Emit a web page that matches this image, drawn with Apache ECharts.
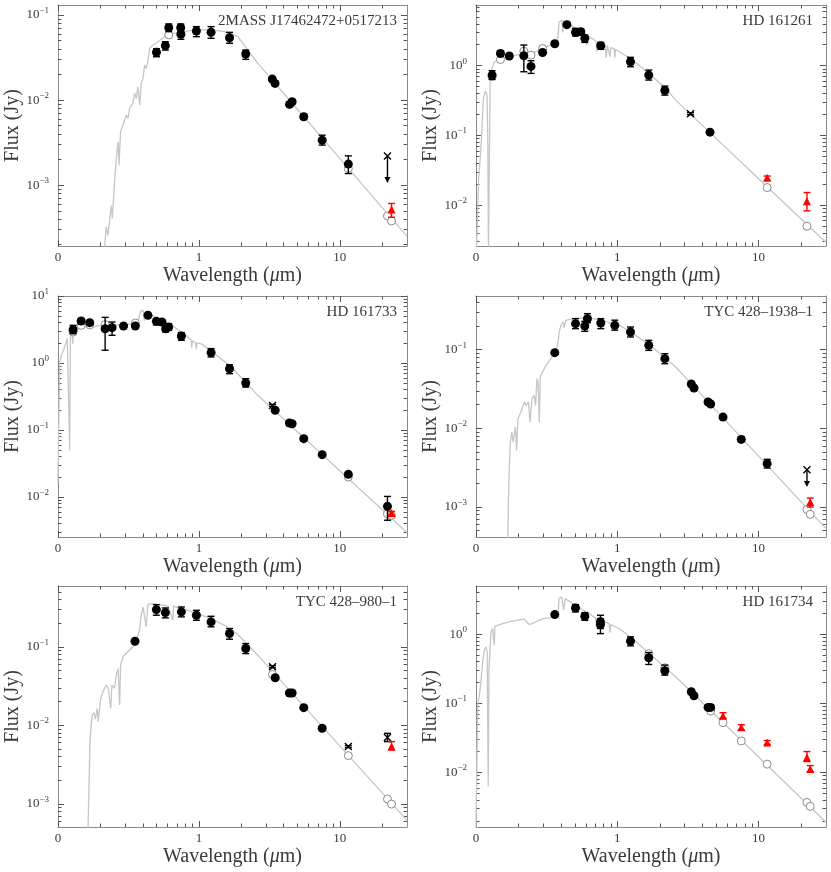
<!DOCTYPE html>
<html><head><meta charset="utf-8">
<script src="https://cdn.jsdelivr.net/npm/echarts@6/dist/echarts.min.js"></script>
<style>html,body{margin:0;padding:0;background:#fff}#c{width:831px;height:872px}</style>
</head><body><div id="c"></div>
<script>
// ---------------- data ----------------
const panelNames = ['2MASS J17462472+0517213', 'HD 161261', 'HD 161733', 'TYC 428\u20131938\u20131', 'TYC 428\u2013980\u20131', 'HD 161734'];
const yMins = [1.93e-4, 2.6e-3, 2.53e-3, 4.16e-4, 5.06e-4, 1.63e-3];
const yMaxs = [0.131, 7.43, 10, 0.481, 0.596, 4.98];
const xMin = 0.1, xMax = 30;
const xTickValues = [0.1, 1, 10];
const xTickLabels = ['0', '1', '10'];

// model spectra [wavelength um, flux Jy]
const p1Model = [[0.214,1.88e-4],[0.220,3.24e-4],[0.226,2.58e-4],[0.232,3.71e-4],[0.239,5.82e-4],[0.243,4.06e-4],[0.252,1.09e-3],[0.259,2.06e-3],[0.267,3.24e-3],[0.271,1.72e-3],[0.278,4.24e-3],[0.289,5.08e-3],[0.305,6.67e-3],[0.314,6.08e-3],[0.322,7.98e-3],[0.340,9.14e-3],[0.350,0.01198],[0.360,0.01046],[0.369,0.01435],[0.380,8.73e-3],[0.390,0.0157],[0.401,0.0180],[0.412,0.0258],[0.423,0.0236],[0.434,0.0282],[0.447,0.0406],[0.472,0.0444],[0.512,0.0485],[0.571,0.0556],[0.620,0.0593],[0.710,0.0625],[0.836,0.0649],[0.984,0.0667],[1.22,0.0667],[1.52,0.0637],[1.89,0.0556],[2.62,0.0270],[5.0,7.8e-3],[10,2.07e-3],[30,2.5e-4]];
const p2Model = [[0.1005,2.0e-3],[0.1044,0.0241],[0.108,0.0583],[0.1105,0.141],[0.1127,0.34],[0.1164,0.433],[0.1196,0.379],[0.1212,0.0906],[0.1225,2.0e-3],[0.1245,2.0e-3],[0.126,0.735],[0.1297,0.916],[0.1348,1.14],[0.142,1.20],[0.154,1.27],[0.172,1.32],[0.192,1.42],[0.214,1.45],[0.225,1.30],[0.238,1.42],[0.266,1.59],[0.296,1.81],[0.348,2.02],[0.378,2.21],[0.388,4.28],[0.405,4.52],[0.411,3.0],[0.417,4.4],[0.445,4.05],[0.509,3.43],[0.590,2.85],[0.605,1.98],[0.615,2.72],[0.705,2.26],[0.715,1.6],[0.725,2.2],[0.82,1.98],[0.835,1.3],[0.85,1.95],[0.875,1.87],[0.89,1.35],[0.90,1.82],[0.95,1.75],[0.96,1.3],[0.97,1.72],[1.0,1.68],[1.28,1.21],[1.68,0.776],[2.20,0.473],[2.59,0.321],[5.0,0.0908],[10,0.024],[30,2.91e-3]];
const p3Model = [[0.1,0.0168],[0.1027,1.03],[0.1056,1.30],[0.1115,1.73],[0.1164,2.31],[0.1195,2.4],[0.121,0.0498],[0.1225,2.5],[0.1257,2.90],[0.127,1.94],[0.1285,3.0],[0.1327,3.25],[0.146,3.57],[0.172,3.44],[0.203,3.65],[0.239,3.65],[0.297,3.73],[0.350,3.86],[0.369,4.09],[0.385,5.90],[0.403,6.11],[0.410,4.3],[0.418,5.9],[0.431,5.77],[0.485,4.86],[0.571,4.09],[0.600,3.9],[0.610,2.9],[0.620,3.85],[0.750,2.90],[0.760,2.3],[0.770,2.85],[0.883,2.18],[0.890,1.7],[0.900,2.15],[0.950,2.0],[0.960,1.6],[0.970,1.98],[1.04,1.94],[1.29,1.38],[1.70,0.871],[2.62,0.329],[5.0,0.0942],[10,0.0247],[30,2.95e-3]];
const p4Model = [[0.1675,3.0e-4],[0.170,1.41e-3],[0.172,3.07e-3],[0.175,6.7e-3],[0.1795,8.97e-3],[0.183,6.7e-3],[0.190,0.0104],[0.1937,5.25e-3],[0.198,0.0133],[0.208,0.0161],[0.220,0.0216],[0.2255,0.0196],[0.2355,0.0216],[0.241,0.0120],[0.249,0.0238],[0.258,0.0262],[0.264,0.0196],[0.270,0.0428],[0.275,0.038],[0.2806,0.0120],[0.285,0.0450],[0.296,0.0520],[0.313,0.0632],[0.339,0.0769],[0.358,0.0889],[0.378,0.1136],[0.388,0.168],[0.399,0.204],[0.414,0.225],[0.420,0.19],[0.432,0.236],[0.482,0.248],[0.567,0.253],[0.600,0.25],[0.610,0.2],[0.620,0.25],[0.667,0.248],[0.785,0.236],[0.924,0.214],[1.09,0.194],[1.35,0.152],[1.77,0.108],[2.59,0.0602],[5.0,0.0169],[10,4.43e-3],[30,5.31e-4]];
const p5Model = [[0.163,4.0e-4],[0.166,1.75e-3],[0.1687,6.2e-3],[0.172,0.0101],[0.175,0.0135],[0.180,0.0145],[0.184,0.012],[0.190,0.0164],[0.193,0.0111],[0.201,0.0220],[0.2085,0.0268],[0.220,0.0326],[0.228,0.029],[0.2365,0.0164],[0.2415,0.0326],[0.252,0.0295],[0.259,0.0437],[0.267,0.0531],[0.2737,0.0181],[0.278,0.0585],[0.289,0.0746],[0.313,0.0864],[0.340,0.1],[0.360,0.116],[0.380,0.171],[0.390,0.253],[0.401,0.322],[0.410,0.33],[0.423,0.18],[0.434,0.345],[0.459,0.356],[0.512,0.345],[0.603,0.332],[0.654,0.218],[0.660,0.33],[0.710,0.313],[0.836,0.292],[0.984,0.265],[1.22,0.229],[1.52,0.188],[1.89,0.1435],[2.62,0.0783],[5.0,0.0216],[10,5.46e-3],[30,6.15e-4]];
const p6Model = [[0.1,1.5e-3],[0.1027,0.0946],[0.1056,0.132],[0.1084,0.205],[0.1115,0.399],[0.1146,0.588],[0.1177,0.656],[0.120,0.556],[0.122,6.3e-3],[0.1235,0.3],[0.1257,0.621],[0.1277,1.08],[0.131,1.21],[0.1347,0.69],[0.136,1.3],[0.1384,1.35],[0.154,1.42],[0.172,1.51],[0.192,1.59],[0.220,1.65],[0.238,1.38],[0.258,1.47],[0.296,1.68],[0.348,1.74],[0.378,1.78],[0.388,3.27],[0.405,3.45],[0.417,2.22],[0.428,3.27],[0.445,3.09],[0.509,2.62],[0.590,2.15],[0.605,1.5],[0.615,2.1],[0.705,1.68],[0.715,1.25],[0.725,1.65],[0.875,1.42],[0.885,1.05],[0.900,1.38],[1.03,1.21],[1.28,0.866],[1.68,0.526],[2.59,0.243],[5.0,0.0661],[10,0.0168],[30,1.91e-3]];

// observed photometry [wavelength, flux, lower, upper]
const p1Obs = [[0.50,0.0364,0.0323,0.0402],[0.578,0.0436,0.0387,0.0485],[0.611,0.0710,0.0637,0.0784],[0.743,0.0710,0.0637,0.0784],[0.745,0.0593,0.0518,0.0667],[0.96,0.0649,0.0556,0.0729],[1.22,0.0625,0.0532,0.0729],[1.65,0.0540,0.0465,0.0625],[2.15,0.0348,0.0301,0.0387],[3.32,0.01766,0.0168,0.0185],[3.47,0.0157,0.0149,0.0166],[4.40,0.00889,0.0084,0.0094],[4.59,0.00955,0.0091,0.0100],[5.55,0.00637,0.0060,0.0068],[7.50,0.00338,0.00296,0.00387],[11.5,0.00177,0.00137,0.00221]];
const p2Obs = [[0.130,0.735,0.637,0.848],[0.149,1.50,1.38,1.64],[0.172,1.38,1.31,1.45],[0.218,1.39,0.82,1.98],[0.245,0.978,0.776,1.18],[0.296,1.55,1.47,1.63],[0.361,2.07,1.97,2.17],[0.440,3.88,3.7,4.1],[0.506,3.01,2.67,3.43],[0.552,3.08,2.9,3.25],[0.589,2.47,2.16,2.75],[0.764,1.94,1.72,2.16],[1.24,1.14,0.968,1.32],[1.67,0.735,0.623,0.867],[2.17,0.442,0.379,0.511],[4.53,0.1116,0.106,0.117]];
const p3Obs = [[0.128,3.14,2.74,3.65],[0.146,4.24,3.86,4.55],[0.168,4.0,3.8,4.2],[0.216,3.25,1.55,4.8],[0.242,3.37,2.59,4.09],[0.292,3.57,3.4,3.75],[0.354,3.57,3.4,3.75],[0.435,5.14,4.9,5.4],[0.499,4.19,3.7,4.6],[0.547,4.09,3.9,4.3],[0.581,3.25,2.90,3.73],[0.610,3.44,3.08,3.86],[0.751,2.53,2.18,2.84],[1.22,1.43,1.23,1.64],[1.65,0.822,0.693,0.944],[2.15,0.502,0.438,0.583],[3.48,0.197,0.187,0.208],[4.39,0.127,0.121,0.133],[4.59,0.124,0.118,0.130],[5.55,0.0743,0.069,0.080],[7.50,0.0429,0.041,0.045],[11.5,0.0218,0.0208,0.0228],[21.8,0.00726,0.0045,0.0102]];
const p4Obs = [[0.361,0.0916,0.088,0.095],[0.506,0.214,0.185,0.248],[0.589,0.200,0.171,0.229],[0.615,0.248,0.220,0.287],[0.764,0.218,0.185,0.248],[0.960,0.204,0.177,0.237],[1.24,0.168,0.145,0.194],[1.67,0.1136,0.098,0.1315],[2.17,0.0769,0.0664,0.0889],[3.34,0.0366,0.0348,0.0385],[3.49,0.0326,0.031,0.0345],[4.39,0.0216,0.0205,0.0227],[4.58,0.0204,0.0194,0.0214],[5.60,0.0139,0.0131,0.0147],[7.54,0.00724,0.0068,0.0077],[11.5,0.00356,0.00313,0.00404]];
const p5Obs = [[0.352,0.118,0.113,0.123],[0.499,0.298,0.253,0.345],[0.578,0.273,0.234,0.313],[0.751,0.279,0.241,0.322],[0.960,0.253,0.218,0.292],[1.22,0.208,0.180,0.245],[1.65,0.148,0.125,0.171],[2.15,0.0953,0.082,0.110],[3.48,0.0404,0.038,0.043],[4.39,0.0258,0.0245,0.0272],[4.59,0.0258,0.0245,0.0272],[5.55,0.0168,0.016,0.0177],[7.50,0.00916,0.0086,0.0097]];
const p6Obs = [[0.361,1.92,1.86,1.98],[0.506,2.40,2.10,2.68],[0.589,1.82,1.59,2.05],[0.760,1.51,1.02,1.88],[0.760,1.38,1.21,1.68],[1.24,0.793,0.679,0.916],[1.67,0.456,0.365,0.544],[2.17,0.296,0.256,0.357],[3.34,0.147,0.141,0.153],[3.49,0.129,0.124,0.134],[4.39,0.0875,0.084,0.091],[4.58,0.0875,0.084,0.091]];

// model photometry (open circles) [wavelength, flux]
const p1Pred = [[0.611,0.0583],[11.5,0.00157],[21.8,4.35e-4],[23.3,3.8e-4]];
const p2Pred = [[0.130,0.70],[0.149,1.23],[0.218,1.62],[0.245,1.42],[0.296,1.77],[11.5,0.0179],[22.0,5.0e-3]];
const p3Pred = [[0.128,2.9],[0.146,3.65],[0.168,3.7],[0.216,3.75],[0.354,3.95],[11.5,0.0199],[21.8,0.0056],[23.3,0.0053]];
const p4Pred = [[22.0,9.3e-4],[23.2,8.07e-4]];
const p5Pred = [[3.33,0.0445],[11.5,0.00411],[21.8,0.00115],[23.3,0.00099]];
const p6Pred = [[1.67,0.526],[2.17,0.327],[4.58,0.0775],[5.60,0.0526],[7.54,0.0286],[11.5,0.0132],[22.0,0.00369],[23.2,0.00324]];

// excess points (red triangles) [wavelength, flux, lower, upper]
const p1Red = [[23.3,5.17e-4,4.2e-4,6.1e-4]];
const p2Red = [[11.5,0.0247,0.0228,0.0262],[22.0,0.0114,0.0083,0.0152]];
const p3Red = [[23.3,0.00577,0.0054,0.0061]];
const p4Red = [[23.2,1.16e-3,1.0e-3,1.3e-3]];
const p5Red = [[23.3,0.00536,0.00485,0.0062]];
const p6Red = [[5.60,0.0664,0.0608,0.0733],[7.54,0.0451,0.0414,0.0491],[11.5,0.0271,0.0255,0.0290],[22.0,0.0165,0.0144,0.0201],[23.2,0.0112,0.0103,0.0126]];

// flagged points (crosses) [wavelength, flux, lower, upper]
const p1Cross = [[21.8,2.21e-3,2.21e-3,2.21e-3]];
const p2Cross = [[3.30,0.205,0.198,0.212]];
const p3Cross = [[3.33,0.233,0.225,0.241]];
const p4Cross = [[22.0,2.98e-3,2.98e-3,2.98e-3]];
const p5Cross = [[3.33,0.0557,0.054,0.0575],[11.5,0.00536,0.0052,0.0055],[21.8,0.00697,0.0062,0.0079]];
const p6Cross = [];

// upper limits [wavelength, flux, arrow tip]
const p1Limit = [[21.8,2.21e-3,1.06e-3]];
const p2Limit = [];
const p3Limit = [];
const p4Limit = [[22.0,2.98e-3,1.8e-3]];
const p5Limit = [];
const p6Limit = [];

// ---------------- chart ----------------
const panels = [
  {model:p1Model, obs:p1Obs, pred:p1Pred, red:p1Red, cross:p1Cross, lim:p1Limit},
  {model:p2Model, obs:p2Obs, pred:p2Pred, red:p2Red, cross:p2Cross, lim:p2Limit},
  {model:p3Model, obs:p3Obs, pred:p3Pred, red:p3Red, cross:p3Cross, lim:p3Limit},
  {model:p4Model, obs:p4Obs, pred:p4Pred, red:p4Red, cross:p4Cross, lim:p4Limit},
  {model:p5Model, obs:p5Obs, pred:p5Pred, red:p5Red, cross:p5Cross, lim:p5Limit},
  {model:p6Model, obs:p6Obs, pred:p6Pred, red:p6Red, cross:p6Cross, lim:p6Limit}
];

const FONT = '"Liberation Serif", "DejaVu Serif", serif';
const TXT = '#3a3a3a';
const FRAME = '#8a8a8a';
const TICK = '#555';
const gridPos = [[58,5,349],[476,5,350],[58,296,349],[476,296,350],[58,586,349],[476,586,350]];
const gridH = 241;

function majorLog(min, max) {
  const out = [];
  for (let e = Math.ceil(Math.log10(min) - 1e-9); e <= Math.floor(Math.log10(max) + 1e-9); e++) out.push(Math.pow(10, e));
  return out;
}
function minorLog(min, max) {
  const out = [];
  for (let e = Math.floor(Math.log10(min)) - 1; e <= Math.ceil(Math.log10(max)); e++) {
    for (let k = 2; k <= 9; k++) { const v = k * Math.pow(10, e); if (v > min && v < max) out.push(v); }
  }
  return out;
}
function yLab(v) {
  const e = Math.round(Math.log10(v));
  return '{b|10}{s|' + (e < 0 ? '\u2212' + (-e) : String(e)) + '}';
}
function xLab(v) {
  const k = xTickValues.findIndex(t => Math.abs(Math.log10(t) - Math.log10(v)) < 1e-6);
  return k >= 0 ? xTickLabels[k] : '';
}

const grids = [], xAxes = [], yAxes = [], series = [], titles = [];

panels.forEach((p, i) => {
  const [gl, gt, gw] = gridPos[i];
  grids.push({left: gl, top: gt, width: gw, height: gridH, containLabel: false});
  const ymin = yMins[i], ymax = yMaxs[i];
  const yMaj = majorLog(ymin, ymax), yMin = minorLog(ymin, ymax);
  const xMaj = xTickValues, xMinor = minorLog(xMin, xMax);
  const baseX = {type: 'log', logBase: 10, gridIndex: i, min: xMin, max: xMax, splitLine: {show: false}};
  const baseY = {type: 'log', logBase: 10, gridIndex: i, min: ymin, max: ymax, splitLine: {show: false}};
  xAxes.push(Object.assign({}, baseX, {
    position: 'bottom',
    axisLine: {show: true, lineStyle: {color: FRAME, width: 1}},
    axisTick: {show: true, inside: true, length: 6, customValues: xMaj, lineStyle: {color: TICK}},
    axisLabel: {show: true, customValues: xMaj, formatter: xLab, fontFamily: FONT, fontSize: 13, color: TXT, margin: 5},
    name: 'Wavelength ({m|\u03bc}m)', nameLocation: 'middle', nameGap: 20,
    nameTextStyle: {fontFamily: FONT, fontSize: 20, color: TXT, verticalAlign: 'top',
      rich: {m: {fontFamily: FONT, fontSize: 20, color: TXT, fontStyle: 'italic'}}}
  }));
  xAxes.push(Object.assign({}, baseX, {position: 'bottom', axisLine: {show: false},
    axisTick: {show: true, inside: true, length: 3.5, customValues: xMinor, lineStyle: {color: TICK}}, axisLabel: {show: false}}));
  xAxes.push(Object.assign({}, baseX, {position: 'top', axisLine: {show: true, lineStyle: {color: FRAME, width: 1}},
    axisTick: {show: true, inside: true, length: 6, customValues: xMaj, lineStyle: {color: TICK}}, axisLabel: {show: false}}));
  xAxes.push(Object.assign({}, baseX, {position: 'top', axisLine: {show: false},
    axisTick: {show: true, inside: true, length: 3.5, customValues: xMinor, lineStyle: {color: TICK}}, axisLabel: {show: false}}));
  yAxes.push(Object.assign({}, baseY, {
    position: 'left',
    axisLine: {show: true, lineStyle: {color: FRAME, width: 1}},
    axisTick: {show: true, inside: true, length: 6, customValues: yMaj, lineStyle: {color: TICK}},
    axisLabel: {show: true, customValues: yMaj, formatter: yLab, margin: 9,
      rich: {b: {fontFamily: FONT, fontSize: 13, color: TXT, lineHeight: 18},
             s: {fontFamily: FONT, fontSize: 9, color: TXT, lineHeight: 10, verticalAlign: 'top'}}},
    name: 'Flux (Jy)', nameLocation: 'middle', nameGap: 28,
    nameTextStyle: {fontFamily: FONT, fontSize: 20, color: TXT}
  }));
  yAxes.push(Object.assign({}, baseY, {position: 'left', axisLine: {show: false},
    axisTick: {show: true, inside: true, length: 3.5, customValues: yMin, lineStyle: {color: TICK}}, axisLabel: {show: false}}));
  yAxes.push(Object.assign({}, baseY, {position: 'right', axisLine: {show: true, lineStyle: {color: FRAME, width: 1}},
    axisTick: {show: true, inside: true, length: 6, customValues: yMaj, lineStyle: {color: TICK}}, axisLabel: {show: false}}));
  yAxes.push(Object.assign({}, baseY, {position: 'right', axisLine: {show: false},
    axisTick: {show: true, inside: true, length: 3.5, customValues: yMin, lineStyle: {color: TICK}}, axisLabel: {show: false}}));

  const xi = 4 * i, yi = 4 * i;
  const rightPx = (i % 2 === 0) ? 831 - (gl + gw - 10) : 831 - (gl + gw - 13);
  titles.push({text: panelNames[i], right: rightPx, top: gt + 9, padding: 0,
    textStyle: {fontFamily: FONT, fontSize: 15, fontWeight: 'normal', color: TXT}});

  series.push({type: 'line', xAxisIndex: xi, yAxisIndex: yi, data: p.model, showSymbol: false, symbol: 'none',
    lineStyle: {color: '#c6c6c6', width: 1.3}, clip: true, z: 1, silent: true, animation: false});
  series.push({type: 'scatter', xAxisIndex: xi, yAxisIndex: yi, data: p.pred, symbol: 'circle', symbolSize: 8,
    itemStyle: {color: '#fff', borderColor: '#8c8c8c', borderWidth: 1, opacity: 1}, z: 2, animation: false});
  const errSeries = (data, color, z) => ({
    type: 'custom', xAxisIndex: xi, yAxisIndex: yi, z: z, animation: false, clip: true,
    data: data.map(d => [d[0], d[2], d[3]]), encode: {x: 0, y: [1, 2]},
    renderItem: function (params, api) {
      const lo = api.value(1), hi = api.value(2);
      if (lo === hi) return null;
      const a = api.coord([api.value(0), lo]), b = api.coord([api.value(0), hi]);
      const hw = 3.5, st = {stroke: color, lineWidth: 1.4};
      return {type: 'group', children: [
        {type: 'line', shape: {x1: a[0], y1: a[1], x2: b[0], y2: b[1]}, style: st},
        {type: 'line', shape: {x1: a[0] - hw, y1: a[1], x2: a[0] + hw, y2: a[1]}, style: st},
        {type: 'line', shape: {x1: b[0] - hw, y1: b[1], x2: b[0] + hw, y2: b[1]}, style: st}
      ]};
    }
  });
  series.push(errSeries(p.obs, '#000', 3));
  series.push({type: 'scatter', xAxisIndex: xi, yAxisIndex: yi, data: p.obs.map(d => [d[0], d[1]]), symbol: 'circle', symbolSize: 9,
    itemStyle: {color: '#000', opacity: 1}, z: 4, animation: false});
  if (p.cross.length) {
    series.push(errSeries(p.cross, '#000', 3));
    series.push({type: 'scatter', xAxisIndex: xi, yAxisIndex: yi, data: p.cross.map(d => [d[0], d[1]]),
      symbol: 'path://M0,0L10,10M10,0L0,10', symbolSize: 7,
      itemStyle: {color: 'rgba(0,0,0,0)', borderColor: '#000', borderWidth: 1.4, opacity: 1}, z: 4, animation: false});
  }
  if (p.lim.length) {
    series.push({type: 'custom', xAxisIndex: xi, yAxisIndex: yi, z: 3, animation: false,
      data: p.lim, encode: {x: 0, y: [1, 2]},
      renderItem: function (params, api) {
        const a = api.coord([api.value(0), api.value(1)]), b = api.coord([api.value(0), api.value(2)]);
        return {type: 'group', children: [
          {type: 'line', shape: {x1: a[0], y1: a[1], x2: b[0], y2: b[1] - 4}, style: {stroke: '#000', lineWidth: 1.4}},
          {type: 'polygon', shape: {points: [[b[0] - 3, b[1] - 6], [b[0] + 3, b[1] - 6], [b[0], b[1]]]}, style: {fill: '#000'}}
        ]};
      }});
  }
  if (p.red.length) {
    series.push(errSeries(p.red, '#ff0000', 5));
    series.push({type: 'scatter', xAxisIndex: xi, yAxisIndex: yi, data: p.red.map(d => [d[0], d[1]]), symbol: 'triangle', symbolSize: 8,
      itemStyle: {color: '#ff0000', opacity: 1}, z: 6, animation: false});
  }
});

const chart = echarts.init(document.getElementById('c'), null, {renderer: 'canvas'});
chart.setOption({
  animation: false,
  backgroundColor: '#fff',
  title: titles,
  grid: grids,
  xAxis: xAxes,
  yAxis: yAxes,
  series: series
});
</script>
</body></html>
